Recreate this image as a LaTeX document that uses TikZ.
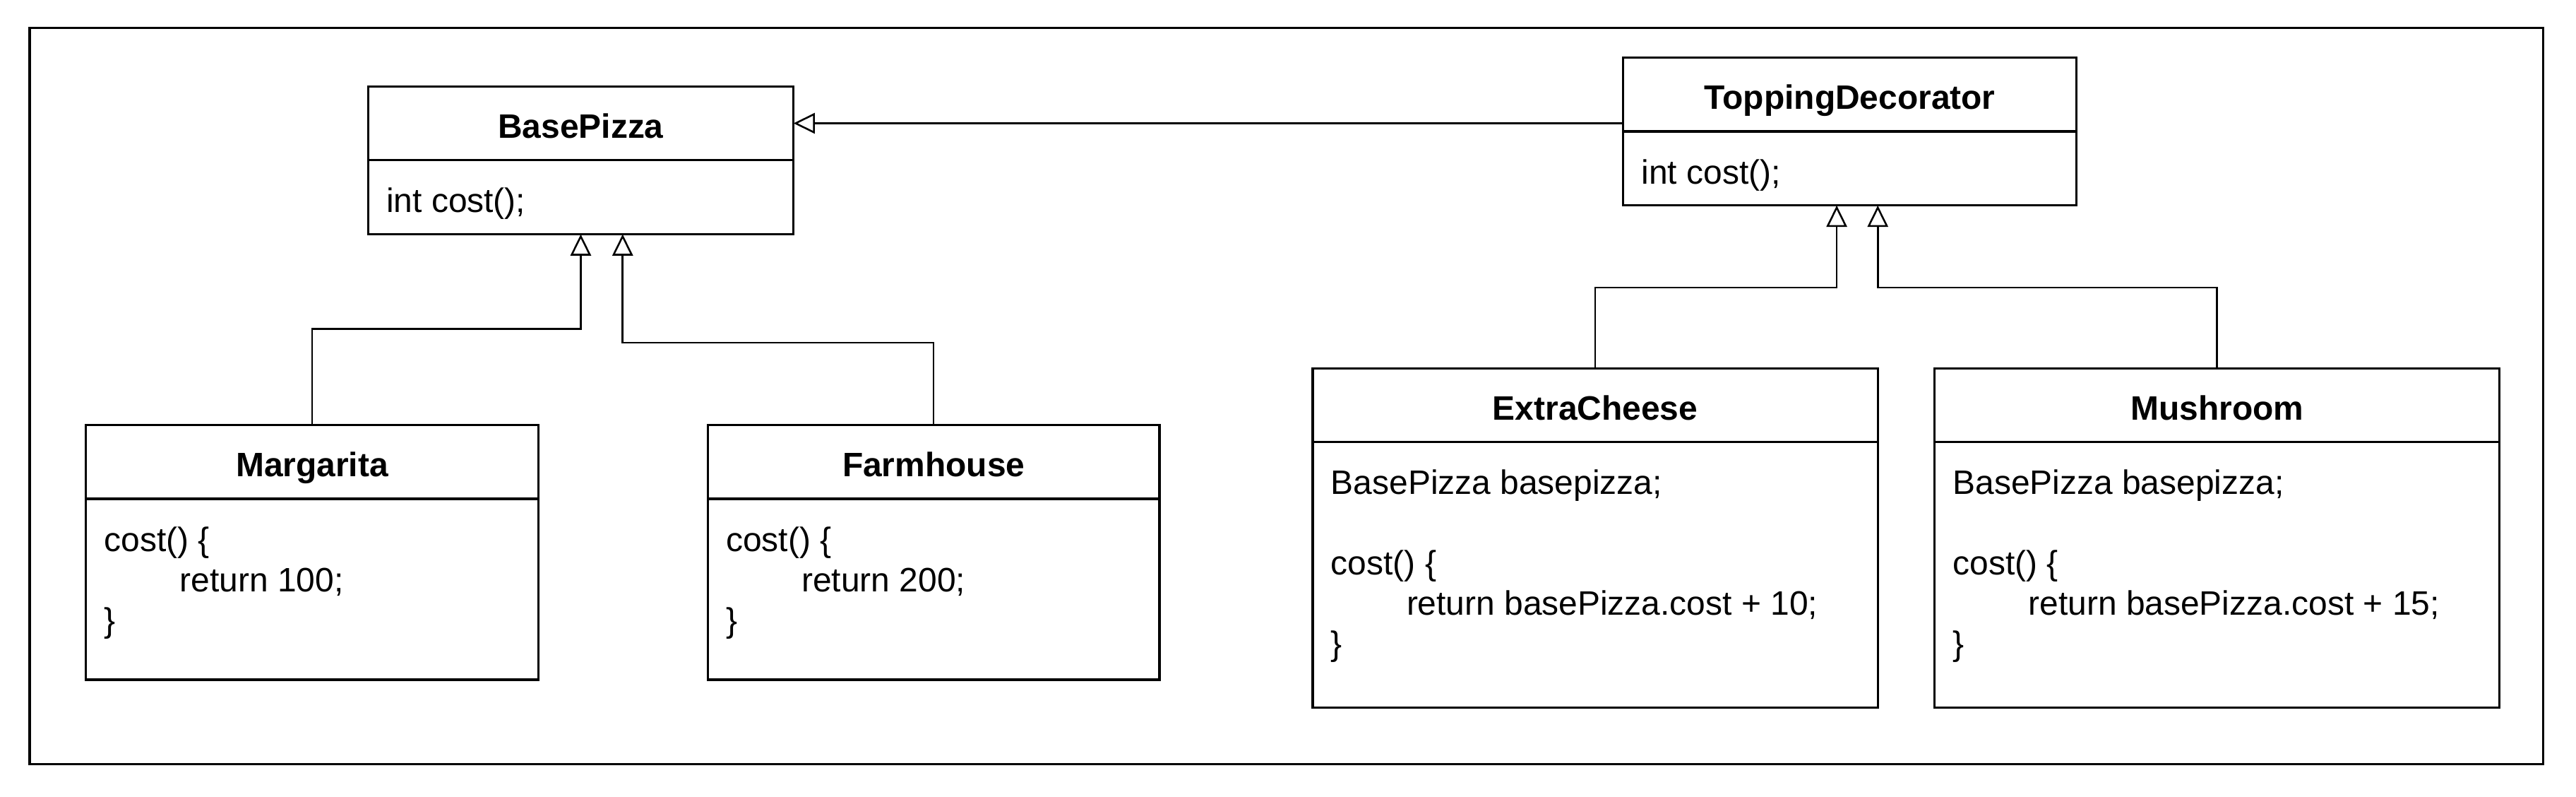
\documentclass[tikz,border=0pt]{standalone}
\usepackage{fontspec}
\setmainfont{Liberation Sans}
\usetikzlibrary{arrows.meta}
\usetikzlibrary{positioning}

\tikzset{
  classhead/.style={draw, line width=1.4pt, outer sep=0pt, inner sep=0pt, minimum height=45pt,
    text height=18pt, text depth=0.3pt, font=\fontsize{20.6}{24.5}\selectfont\bfseries},
  classbody/.style={draw, line width=1.4pt, outer sep=0pt, inner sep=0pt},
  code/.style={anchor=north west, inner sep=0pt, align=left},
  extends/.style={line width=1.1pt, -{Triangle[open, length=13pt, width=12.5pt]}},
}

\begin{document}
\begin{tikzpicture}[x=1pt, y=-1pt, font=\fontsize{20.6}{24.5}\selectfont]

    \useasboundingbox (0,0) rectangle (1568,484.8);
    \draw[line width=1.4pt] (18,17) rectangle (1548,465);

    % abstract classes
    \node[classhead, minimum width=259pt] (basepizza) at (353.5,75) {BasePizza};
    \node[classbody, minimum width=259pt, minimum height=45pt, below=0pt of basepizza] (basepizza-body) {};
    \node[code] (basepizza-code) at ([shift={(11,14.5)}]basepizza-body.north west) {\strut int cost();};

    \node[classhead, minimum width=276pt] (topping) at (1126,57.5) {ToppingDecorator};
    \node[classbody, minimum width=276pt, minimum height=45pt, below=0pt of topping] (topping-body) {};
    \node[code] (topping-code) at ([shift={(11,14.5)}]topping-body.north west) {\strut int cost();};

    % pizzas
    \node[classhead, minimum width=275.5pt] (margarita) at (190,281) {Margarita};
    \node[classbody, minimum width=275.5pt, minimum height=110pt, below=0pt of margarita] (margarita-body) {};
    \node[code] (margarita-code) at ([shift={(11,14.5)}]margarita-body.north west)
        {\strut cost() \{\\\hspace*{46pt}return 100;\\\}};

    \node[classhead, minimum width=275pt] (farmhouse) at (568.3,281) {Farmhouse};
    \node[classbody, minimum width=275pt, minimum height=110pt, below=0pt of farmhouse] (farmhouse-body) {};
    \node[code] (farmhouse-code) at ([shift={(11,14.5)}]farmhouse-body.north west)
        {\strut cost() \{\\\hspace*{46pt}return 200;\\\}};

    % toppings
    \node[classhead, minimum width=344pt] (extracheese) at (971,246.5) {ExtraCheese};
    \node[classbody, minimum width=344pt, minimum height=161.5pt, below=0pt of extracheese] (extracheese-body) {};
    \node[code] (extracheese-code) at ([shift={(11,14.5)}]extracheese-body.north west)
        {\strut BasePizza basepizza;\\[24.5pt]cost() \{\\\hspace*{46pt}return basePizza.cost + 10;\\\}};

    \node[classhead, minimum width=344pt] (mushroom) at (1349.5,246.5) {Mushroom};
    \node[classbody, minimum width=344pt, minimum height=161.5pt, below=0pt of mushroom] (mushroom-body) {};
    \node[code] (mushroom-code) at ([shift={(11,14.5)}]mushroom-body.north west)
        {\strut BasePizza basepizza;\\[24.5pt]cost() \{\\\hspace*{46pt}return basePizza.cost + 15;\\\}};

    \draw[extends] (topping.west |- basepizza.east) -- (basepizza.east);
    \draw[extends] (margarita.north) -- ++(0,-58.5) -| (basepizza-body.south);
    \draw[extends] (farmhouse.north) -- ++(0,-50) -| ([xshift=25.5pt]basepizza-body.south);
    \draw[extends] (extracheese.north) -- ++(0,-49) -| ([xshift=-8pt]topping-body.south);
    \draw[extends] (mushroom.north) -- ++(0,-49) -| ([xshift=17pt]topping-body.south);

\end{tikzpicture}
\end{document}
